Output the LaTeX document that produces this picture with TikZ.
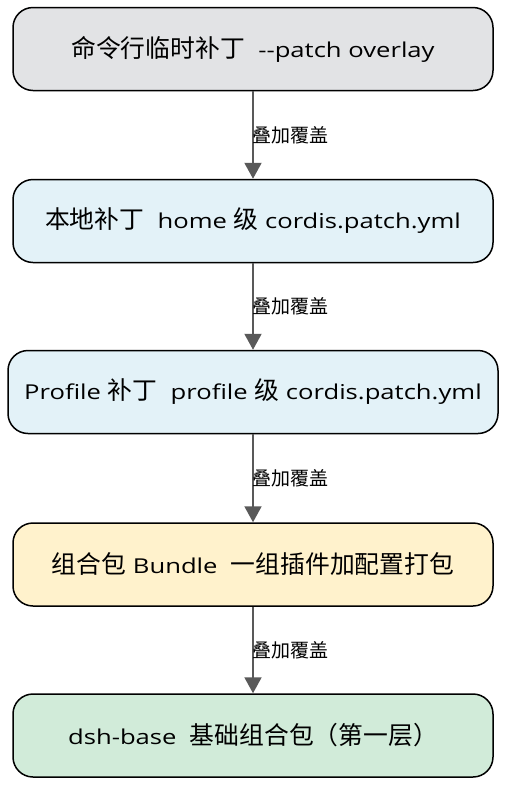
\documentclass[tikz,border=0pt]{standalone}
\usepackage{fontspec}
\setmainfont{Open Sans}[FakeStretch=1.25]
\newfontfamily\cjk{Noto Sans CJK SC}
\usetikzlibrary{arrows.meta}
\definecolor{cgray}{HTML}{E2E3E5}
\definecolor{cblue}{HTML}{E3F2F8}
\definecolor{cyel}{HTML}{FFF2CC}
\definecolor{cgreen}{HTML}{D1EBD9}
\definecolor{arrowc}{HTML}{595959}
\newcommand{\zh}[1]{{\cjk\fontsize{24.8}{28}\selectfont #1}}
\tikzset{
  layerbox/.style={draw=black, line width=1.5pt, rounded corners=20pt, minimum width=480pt, minimum height=83pt, font=\fontsize{20.5}{24}\selectfont, inner sep=0pt},
  overlay arrow/.style={draw=arrowc, line width=2pt, -{Triangle[length=16pt,width=17pt]}},
  arrowlabel/.style={font=\cjk\fontsize{19}{21}\selectfont, anchor=west, inner sep=0pt, xshift=-1.5pt}
}
\begin{document}
\begin{tikzpicture}[x=1pt,y=-1pt]
\useasboundingbox (0,0) rectangle (506,785);
\node[layerbox, fill=cgray] (n1) at (253,49) {\zh{命令行临时补丁}\ \ -{}-patch overlay};
\node[layerbox, fill=cblue] (n2) at (253,221) {\zh{本地补丁}\ \ home \zh{级} cordis.patch.yml};
\node[layerbox, fill=cblue, minimum width=490pt] (n3) at (253,392) {Profile \zh{补丁}\ \ profile \zh{级} cordis.patch.yml};
\node[layerbox, fill=cyel] (n4) at (253,564.5) {\zh{组合包} Bundle\ \ \zh{一组插件加配置打包}};
\node[layerbox, fill=cgreen] (n5) at (253,735.5) {dsh-base\ \ \zh{基础组合包（第一层）}};
\draw[overlay arrow] (n1) -- (n2) node[midway, arrowlabel] {叠加覆盖};
\draw[overlay arrow] (n2) -- (n3) node[midway, arrowlabel] {叠加覆盖};
\draw[overlay arrow] (n3) -- (n4) node[midway, arrowlabel] {叠加覆盖};
\draw[overlay arrow] (n4) -- (n5) node[midway, arrowlabel] {叠加覆盖};
\end{tikzpicture}
\end{document}
